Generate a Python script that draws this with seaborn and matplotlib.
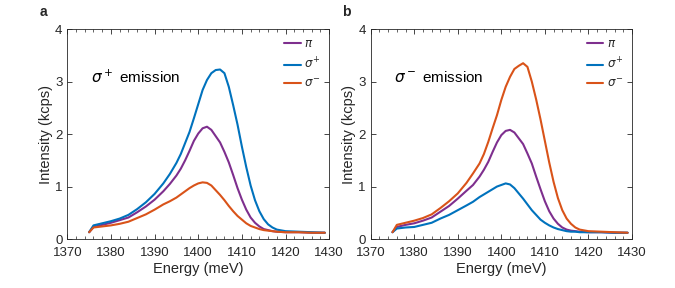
import numpy as np
import pandas as pd
import matplotlib
matplotlib.use("Agg")
import matplotlib.pyplot as plt
import seaborn as sns

# ---- data ----
energy = [1375, 1376, 1378, 1380, 1382, 1384, 1386, 1388, 1390, 1392, 1393.5, 1395, 1396,
          1397, 1398, 1399, 1400, 1401, 1402, 1403, 1404, 1405, 1406, 1407, 1408, 1409,
          1410, 1411, 1412, 1413, 1414, 1415, 1416, 1417,
          1418, 1420, 1423, 1426, 1429]

a_pi = [0.13, 0.23, 0.27, 0.31, 0.36, 0.41, 0.51, 0.62, 0.75, 0.91, 1.05, 1.21, 1.34,
        1.50, 1.68, 1.87, 2.01, 2.11, 2.14, 2.08, 1.96, 1.84, 1.66, 1.46, 1.22, 0.97,
        0.75, 0.56, 0.41, 0.31, 0.24, 0.19, 0.17, 0.15,
        0.14, 0.13, 0.13, 0.12, 0.12]
a_sp = [0.13, 0.26, 0.30, 0.34, 0.39, 0.46, 0.57, 0.70, 0.86, 1.06, 1.24, 1.45, 1.62,
        1.83, 2.04, 2.30, 2.57, 2.84, 3.03, 3.16, 3.22, 3.23, 3.16, 2.90, 2.55, 2.18,
        1.76, 1.37, 1.02, 0.74, 0.53, 0.38, 0.28, 0.22,
        0.18, 0.15, 0.14, 0.13, 0.12]
a_sm = [0.13, 0.22, 0.24, 0.26, 0.29, 0.33, 0.40, 0.47, 0.56, 0.66, 0.72, 0.79, 0.85,
        0.91, 0.97, 1.02, 1.06, 1.08, 1.07, 1.02, 0.93, 0.84, 0.74, 0.63, 0.53, 0.44,
        0.37, 0.30, 0.25, 0.22, 0.19, 0.17, 0.16, 0.15,
        0.14, 0.13, 0.13, 0.12, 0.12]

b_pi = [0.13, 0.23, 0.27, 0.30, 0.35, 0.41, 0.52, 0.63, 0.77, 0.92, 1.03, 1.19, 1.32,
        1.47, 1.66, 1.84, 1.98, 2.06, 2.08, 2.03, 1.92, 1.81, 1.63, 1.44, 1.19, 0.95,
        0.72, 0.53, 0.39, 0.29, 0.22, 0.18, 0.16, 0.15,
        0.14, 0.13, 0.13, 0.12, 0.12]
b_sp = [0.13, 0.20, 0.22, 0.23, 0.27, 0.31, 0.39, 0.46, 0.55, 0.64, 0.71, 0.80, 0.85,
        0.90, 0.95, 1.00, 1.03, 1.06, 1.04, 0.97, 0.87, 0.77, 0.66, 0.55, 0.46, 0.37,
        0.31, 0.26, 0.22, 0.19, 0.17, 0.15, 0.14, 0.14,
        0.13, 0.13, 0.13, 0.12, 0.12]
b_sm = [0.13, 0.27, 0.31, 0.35, 0.40, 0.47, 0.59, 0.72, 0.87, 1.07, 1.25, 1.44, 1.62,
        1.85, 2.11, 2.36, 2.65, 2.90, 3.09, 3.24, 3.30, 3.35, 3.28, 3.00, 2.66, 2.28,
        1.87, 1.46, 1.09, 0.78, 0.55, 0.39, 0.29, 0.22,
        0.18, 0.15, 0.14, 0.13, 0.12]

series_labels = [r'$\pi$', r'$\sigma^{+}$', r'$\sigma^{-}$']
colors = ['#7E2F8E', '#0072BD', '#D95319']
panel_letters = ['a', 'b']
panel_titles = [r'$\sigma^+$ emission', r'$\sigma^-$ emission']
xticks = [1370, 1380, 1390, 1400, 1410, 1420, 1430]
yticks = [0, 1, 2, 3, 4]

sns.set_style('ticks')
plt.rcParams['font.family'] = ['Liberation Sans', 'DejaVu Sans']
plt.rcParams['mathtext.fontset'] = 'dejavusans'

fig = plt.figure(figsize=(6.75, 2.88), dpi=100)
ax_a = fig.add_axes([0.0997, 0.170, 0.388, 0.729])
ax_b = fig.add_axes([0.5492, 0.170, 0.387, 0.729])

panels = [(ax_a, [a_pi, a_sp, a_sm]), (ax_b, [b_pi, b_sp, b_sm])]
edge = '#262626'
for i, (ax, data) in enumerate(panels):
    for vals, lab, col in zip(data, series_labels, colors):
        df = pd.DataFrame({'E': energy, 'I': vals})
        sns.lineplot(data=df, x='E', y='I', ax=ax, color=col, lw=1.5, label=lab)
    ax.set_xlim(1370, 1430)
    ax.set_ylim(0, 4)
    ax.set_xticks(xticks)
    ax.set_yticks(yticks)
    ax.set_xticks(np.arange(1370, 1431, 2), minor=True)
    ax.tick_params(which='both', direction='in', top=True, right=True,
                   colors=edge, labelsize=9.5, labelcolor=edge)
    ax.tick_params(which='major', length=3.5, width=0.6)
    ax.tick_params(which='minor', length=2, width=0.5)
    ax.tick_params(axis='x', which='major', pad=5.5)
    for s in ax.spines.values():
        s.set_visible(True)
        s.set_color(edge)
        s.set_linewidth(0.6)
    ax.set_xlabel('Energy (meV)', fontsize=10.5, color=edge, labelpad=2.5)
    ax.set_ylabel('Intensity (kcps)', fontsize=10.5, color=edge, labelpad=1.5)
    ax.text(1375.4, 3.08, panel_titles[i], fontsize=11, va='center', ha='left', color='black')
    leg = ax.legend(loc='upper right', frameon=False, fontsize=8.5, handlelength=1.4,
                    handletextpad=0.3, labelspacing=0.55, borderaxespad=0.35)
    for t in leg.get_texts():
        t.set_color(edge)

fig.text(40 / 675, 1 - 12 / 288, 'a', fontsize=10, fontweight='bold', va='center', ha='left')
fig.text(342 / 675, 1 - 12 / 288, 'b', fontsize=10, fontweight='bold', va='center', ha='left')

fig.savefig('out.png', dpi=100)
